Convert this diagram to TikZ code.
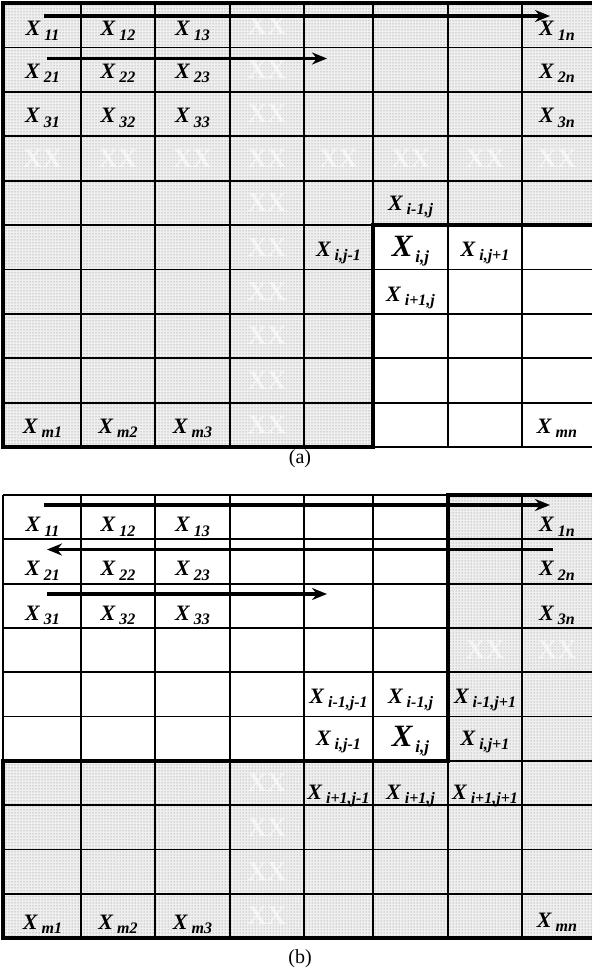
\documentclass[tikz,border=0pt]{standalone}
\usepackage{fontspec}
\setmainfont{Liberation Serif}
\usepackage{tikz}
\usetikzlibrary{arrows.meta,patterns}
\definecolor{ink}{HTML}{000000}
\definecolor{dotgray}{HTML}{7A7A7A}
\definecolor{shade}{HTML}{EFEFEF}
\tikzset{
  gridline/.style={draw=ink,line width=1.8pt},
  border/.style={draw=ink,line width=4.2pt,line join=miter},
  shaded/.style={fill=shade,postaction={pattern=dots,pattern color=dotgray}},
  xlbl/.style={anchor=base,inner sep=0pt,text=ink,font=\fontsize{22}{24}\selectfont\bfseries\itshape},
  biglbl/.style={xlbl,font=\fontsize{31}{32}\selectfont\bfseries\itshape},
  wmark/.style={text=white,opacity=.6,inner sep=0pt,font=\fontsize{27}{27}\selectfont\bfseries},
  scan/.style={-{Stealth[length=15pt,width=12pt]},line width=3.2pt,draw=ink},
  capt/.style={inner sep=0pt,text=ink,font=\fontsize{20}{20}\selectfont},
}
\newcommand{\xs}[1]{X\hspace{4pt}\raisebox{-4.5pt}{\fontsize{16}{16}\selectfont #1}}
\newcommand{\xbig}[1]{X\hspace{3pt}\raisebox{-6pt}{\fontsize{17}{17}\selectfont #1}}

\begin{document}
\begin{tikzpicture}[x=1pt,y=-1pt]
    \useasboundingbox (0,0) rectangle (592,972);
    % ---------- (a) ----------
    \fill[shaded] (3,3) -- (592,3) -- (592,225) -- (373,225) -- (373,447) -- (3,447) -- cycle;
    \foreach \k in {0,...,9}
      \node[wmark] (wa-c\k) at (267,25.2+44.4*\k) {XX};
    \foreach \x [count=\i] in {42.5,118,192.5,338.5,410.5,485,557}
      \node[wmark] (wa-r\i) at (\x,158.4) {XX};
    \foreach \x in {81,155,230,304,373,448,522}
      \draw[gridline] (\x,3) -- (\x,447);
    \foreach \k in {1,...,9}
      \draw[gridline] (3,3+44.4*\k) -- (592,3+44.4*\k);
    \draw[gridline] (373,447) -- (592,447);
    \draw[border] (592,225) -- (373,225) -- (373,447) -- (3,447) -- (3,3) -- (592,3);
    % labels
    \node[xlbl] (a11) at (42.5,35.5) {\xs{11}};
    \node[xlbl] (a12) at (118,35.5) {\xs{12}};
    \node[xlbl] (a13) at (192.5,35.5) {\xs{13}};
    \node[xlbl] (a1n) at (557,35.5) {\xs{1n}};
    \node[xlbl] (a21) at (42.5,78) {\xs{21}};
    \node[xlbl] (a22) at (118,78) {\xs{22}};
    \node[xlbl] (a23) at (192.5,78) {\xs{23}};
    \node[xlbl] (a2n) at (557,78) {\xs{2n}};
    \node[xlbl] (a31) at (42.5,122.5) {\xs{31}};
    \node[xlbl] (a32) at (118,122.5) {\xs{32}};
    \node[xlbl] (a33) at (192.5,122.5) {\xs{33}};
    \node[xlbl] (a3n) at (557,122.5) {\xs{3n}};
    \node[xlbl] (aup) at (410.5,210) {\xs{i-1,j}};
    \node[xlbl] (aleft) at (338.5,256) {\xs{i,j-1}};
    \node[biglbl] (acur) at (410.5,256) {\xbig{i,j}};
    \node[xlbl] (aright) at (485,256) {\xs{i,j+1}};
    \node[xlbl] (adown) at (410.5,301) {\xs{i+1,j}};
    \node[xlbl] (am1) at (42.5,433) {\xs{m1}};
    \node[xlbl] (am2) at (118,433) {\xs{m2}};
    \node[xlbl] (am3) at (192.5,433) {\xs{m3}};
    \node[xlbl] (amn) at (557,433) {\xs{mn}};
    % scan arrows
    \coordinate (ra1s) at (44,16);
    \coordinate (ra1e) at (550,16);
    \coordinate (ra2s) at (47,58.5);
    \coordinate (ra2e) at (327,58.5);
    \draw[scan] (ra1s) -- (ra1e);
    \draw[scan] (ra2s) -- (ra2e);
    \node[capt] (capa) at (300,459) {(a)};
    % ---------- (b) ----------
    \fill[shaded] (448,495) -- (592,495) -- (592,938) -- (3,938) -- (3,760.8) -- (448,760.8) -- cycle;
    \foreach \k in {6,...,9}
      \node[wmark] (wb-c\k) at (267,517.15+44.3*\k) {XX};
    \foreach \x [count=\i] in {485,557}
      \node[wmark] (wb-r\i) at (\x,650.05) {XX};
    \foreach \x in {81,155,230,304,373,448,522}
      \draw[gridline] (\x,495) -- (\x,938);
    \foreach \k in {0,...,9}
      \draw[gridline] (3,495+44.3*\k) -- (592,495+44.3*\k);
    \draw[gridline] (3,495) -- (3,760.8);
    \draw[border] (592,495) -- (448,495) -- (448,760.8) -- (3,760.8) -- (3,938) -- (592,938);
    % labels
    \node[xlbl] (b11) at (42.5,531.5) {\xs{11}};
    \node[xlbl] (b12) at (118,531.5) {\xs{12}};
    \node[xlbl] (b13) at (192.5,531.5) {\xs{13}};
    \node[xlbl] (b1n) at (557,531.5) {\xs{1n}};
    \node[xlbl] (b21) at (42.5,575.5) {\xs{21}};
    \node[xlbl] (b22) at (118,575.5) {\xs{22}};
    \node[xlbl] (b23) at (192.5,575.5) {\xs{23}};
    \node[xlbl] (b2n) at (557,575.5) {\xs{2n}};
    \node[xlbl] (b31) at (42.5,620) {\xs{31}};
    \node[xlbl] (b32) at (118,620) {\xs{32}};
    \node[xlbl] (b33) at (192.5,620) {\xs{33}};
    \node[xlbl] (b3n) at (557,620) {\xs{3n}};
    \node[xlbl] (bul) at (338.5,703) {\xs{i-1,j-1}};
    \node[xlbl] (bup) at (410.5,703) {\xs{i-1,j}};
    \node[xlbl] (bur) at (485,703) {\xs{i-1,j+1}};
    \node[xlbl] (bleft) at (338.5,745) {\xs{i,j-1}};
    \node[biglbl] (bcur) at (410.5,746) {\xbig{i,j}};
    \node[xlbl] (bright) at (485,745) {\xs{i,j+1}};
    \node[xlbl] (bdl) at (338.5,799) {\xs{i+1,j-1}};
    \node[xlbl] (bdown) at (410.5,799) {\xs{i+1,j}};
    \node[xlbl] (bdr) at (485,799) {\xs{i+1,j+1}};
    \node[xlbl] (bm1) at (42.5,929) {\xs{m1}};
    \node[xlbl] (bm2) at (118,929) {\xs{m2}};
    \node[xlbl] (bm3) at (192.5,929) {\xs{m3}};
    \node[xlbl] (bmn) at (557,927) {\xs{mn}};
    % scan arrows
    \coordinate (rb1s) at (44,505);
    \coordinate (rb1e) at (550,505);
    \coordinate (rb2s) at (553,549.5);
    \coordinate (rb2e) at (47,549.5);
    \coordinate (rb3s) at (47,594);
    \coordinate (rb3e) at (327,594);
    \draw[scan] (rb1s) -- (rb1e);
    \draw[scan] (rb2s) -- (rb2e);
    \draw[scan] (rb3s) -- (rb3e);
    \node[capt] (capb) at (300,959) {(b)};
\end{tikzpicture}
\end{document}
